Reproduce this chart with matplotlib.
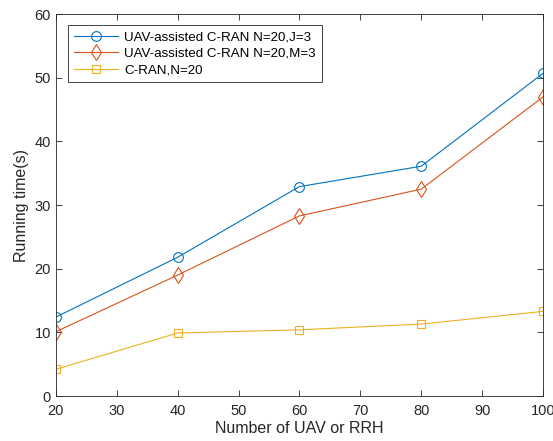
import numpy as np
import matplotlib
matplotlib.use("Agg")
import matplotlib.pyplot as plt

plt.rcParams['font.family'] = ['Liberation Sans', 'DejaVu Sans']

# data
n_nodes = [20, 40, 60, 80, 100]
uav_j3 = [12.4, 21.8, 32.9, 36.1, 50.7]
uav_m3 = [10.1, 19.0, 28.3, 32.5, 47.0]
cran = [4.2, 9.9, 10.4, 11.3, 13.3]

labels = ["UAV-assisted C-RAN N=20,J=3",
          "UAV-assisted C-RAN N=20,M=3",
          "C-RAN,N=20"]
colors = ["#0072BD", "#D95319", "#EDB120"]
markers = ["o", "d", "s"]
msizes = [7, 8.5, 6]

fig = plt.figure(figsize=(5.53, 4.41), dpi=100)
ax = fig.add_axes([0.101, 0.102, 0.881, 0.866])

for y, lab, c, m, ms in zip([uav_j3, uav_m3, cran], labels, colors, markers, msizes):
    ax.plot(n_nodes, y, color=c, marker=m, markerfacecolor='none',
            markeredgecolor=c, markersize=ms,
            linewidth=0.8, markeredgewidth=0.8, label=lab)

ax.set_xlim(20, 100)
ax.set_ylim(0, 60)
ax.set_xticks(np.arange(20, 101, 10))
ax.set_yticks(np.arange(0, 61, 10))
ax.tick_params(direction='in', top=True, right=True, labelsize=10.5,
               colors='#262626', length=4, width=0.6)
ax.tick_params(axis='x', pad=6)
for s in ax.spines.values():
    s.set_linewidth(0.6)
    s.set_color('#262626')
ax.set_xlabel("Number of UAV or RRH", fontsize=11.5, color='#262626', labelpad=2)
ax.set_ylabel("Running time(s)", fontsize=11.5, color='#262626')

leg = ax.legend(loc='upper left', fontsize=9.6, fancybox=False,
                edgecolor='#262626', framealpha=1, borderpad=0.45,
                handlelength=3.3, handletextpad=0.45, labelspacing=0.3,
                borderaxespad=0, bbox_to_anchor=(0.025, 0.971))
leg.get_frame().set_linewidth(0.6)

fig.savefig("out.png", dpi=100)
